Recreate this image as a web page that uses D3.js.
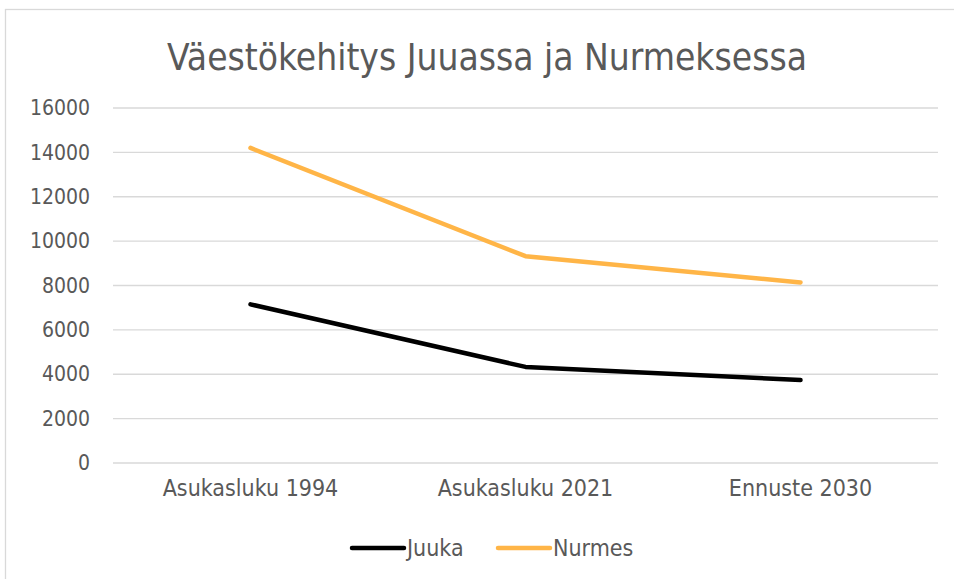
<!DOCTYPE html>
<html lang="fi">
<head>
  <meta charset="utf-8">
  <title>Väestökehitys</title>
  <script src="https://cdnjs.cloudflare.com/ajax/libs/d3/7.8.5/d3.min.js"></script>
  <style>
    html, body { margin: 0; padding: 0; background: #fff; }
    text { font-family: "DejaVu Sans Condensed", "DejaVu Sans", sans-serif; fill: #595959; }
    .grid line { stroke: #d9d9d9; stroke-width: 1.3; }
  </style>
</head>
<body>
<svg id="chart" width="954" height="579"></svg>
<script>
// data
var categories = ["Asukasluku 1994", "Asukasluku 2021", "Ennuste 2030"];
var juuka = [7150, 4330, 3740];
var nurmes = [14200, 9320, 8140];
var seriesNames = ["Juuka", "Nurmes"];
var seriesColors = ["#000000", "#ffb547"];
var yTicks = [0, 2000, 4000, 6000, 8000, 10000, 12000, 14000, 16000];

var svg = d3.select("#chart");
var plotL = 113, plotR = 938, plotT = 108, plotB = 463;

// chart frame
svg.append("rect")
  .attr("x", 5.5).attr("y", 9.5)
  .attr("width", 960).attr("height", 600)
  .attr("fill", "none").attr("stroke", "#d9d9d9").attr("stroke-width", 1.3);

svg.append("text")
  .attr("x", 487).attr("y", 70)
  .attr("text-anchor", "middle")
  .style("font-size", "36.8px")
  .text("Väestökehitys Juuassa ja Nurmeksessa");

var x = d3.scaleBand().domain(categories).range([plotL, plotR]);
var y = d3.scaleLinear().domain([0, 16000]).range([plotB, plotT]);

// gridlines
svg.append("g").attr("class", "grid")
  .selectAll("line").data(yTicks).enter().append("line")
  .attr("x1", plotL).attr("x2", plotR)
  .attr("y1", d => y(d)).attr("y2", d => y(d));

// y axis labels
var yAxis = d3.axisLeft(y).tickValues(yTicks).tickSize(0).tickPadding(0).tickFormat(d3.format("d"));
var gy = svg.append("g").attr("transform", "translate(90,0)").call(yAxis);
gy.select(".domain").remove();
gy.selectAll("text").style("font-size", "21px").attr("font-family", null).attr("fill", null);

// x axis labels
var xAxis = d3.axisBottom(x).tickSize(0).tickPadding(0);
var gx = svg.append("g").attr("transform", "translate(0,480)").call(xAxis);
gx.select(".domain").remove();
gx.selectAll("text").style("font-size", "23px").attr("font-family", null).attr("fill", null);

// lines
var line = d3.line()
  .x((d, i) => x(categories[i]) + x.bandwidth() / 2)
  .y(d => y(d));

[juuka, nurmes].forEach(function (vals, k) {
  svg.append("path")
    .datum(vals)
    .attr("d", line)
    .attr("fill", "none")
    .attr("stroke", seriesColors[k])
    .attr("stroke-width", 4.5)
    .attr("stroke-linecap", "round")
    .attr("stroke-linejoin", "round");
});

// legend
var legendX = [350, 496];
seriesNames.forEach(function (name, k) {
  var g = svg.append("g").attr("transform", "translate(" + legendX[k] + ",548)");
  g.append("line")
    .attr("x1", 2).attr("x2", 54).attr("y1", 0).attr("y2", 0)
    .attr("stroke", seriesColors[k]).attr("stroke-width", 4.5)
    .attr("stroke-linecap", "round");
  g.append("text")
    .attr("x", 57).attr("y", 8)
    .style("font-size", "23px")
    .text(name);
});
</script>
</body>
</html>
